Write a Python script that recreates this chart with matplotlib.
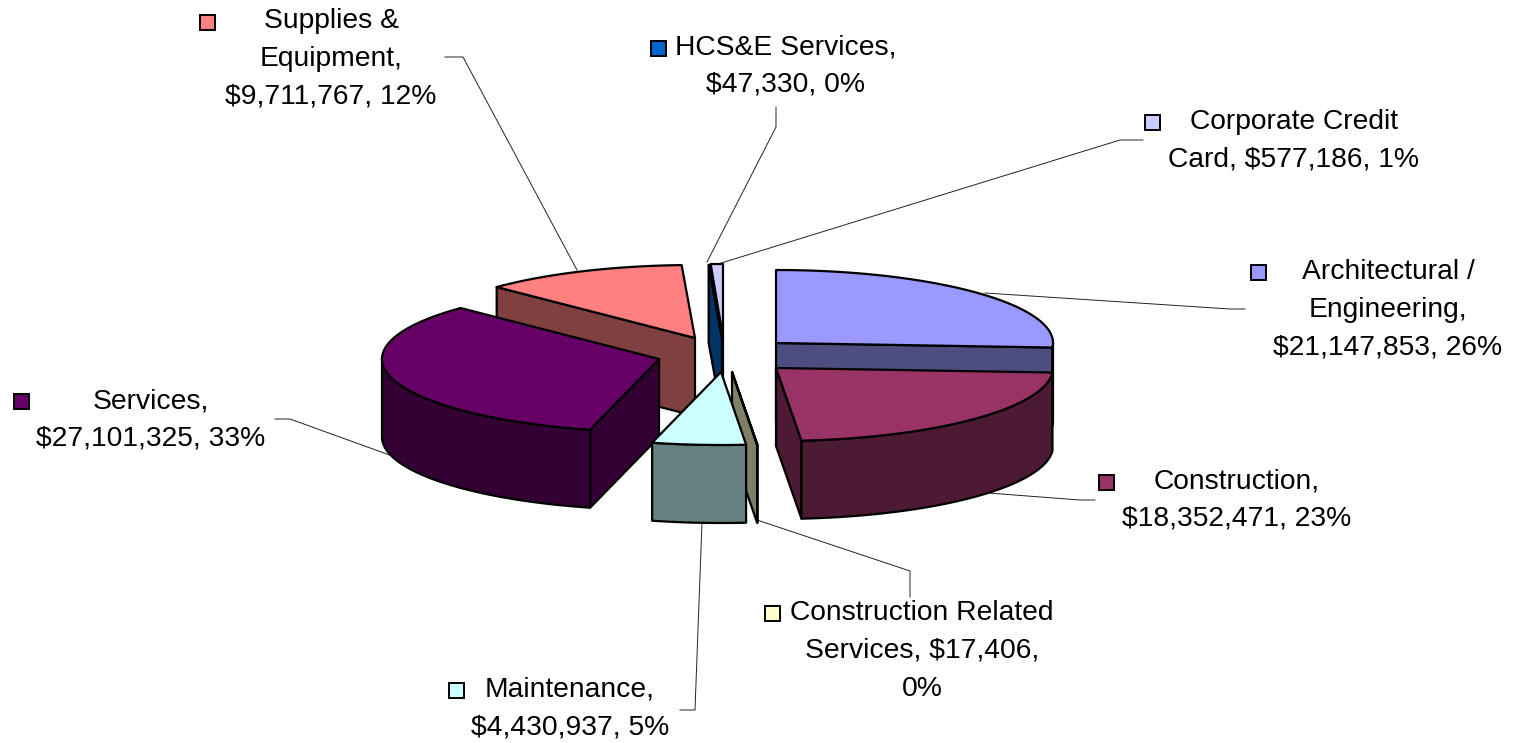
import numpy as np
import matplotlib
matplotlib.use("Agg")
import matplotlib.pyplot as plt
from matplotlib.patches import Polygon, Rectangle

# ---- data ----
categories = ["Architectural / Engineering", "Construction", "Construction Related Services",
              "Maintenance", "Services", "Supplies & Equipment", "HCS&E Services", "Corporate Credit Card"]
values = [21147853, 18352471, 17406, 4430937, 27101325, 9711767, 47330, 577186]
percents = [26, 23, 0, 5, 33, 12, 0, 1]

# ---- styles and layout ----
colors = ["#9999FF", "#993366", "#FFFFCC", "#CCFFFF", "#660066", "#FF8080", "#0066CC", "#CCCCFF"]
apexes = [(776, 343), (776, 368), (732, 372), (721, 372), (659, 359), (695, 338), (722, 338), (723, 337)]
draw_order = [0, 1, 5, 7, 6, 4, 2, 3]
RX, RY, DEPTH = 277, 73, 78
EDGE = "black"
LW = 1.6

line_breaks = [
    ["Architectural /", "Engineering,"], ["Construction,"], ["Construction Related", "Services, {v}"],
    ["Maintenance,"], ["Services,"], ["Supplies &", "Equipment,"], ["HCS&E Services,"], ["Corporate Credit"],
]
label_centers = [(1388, 272), (1237, 481), (922, 613), (570, 690), (151, 401), (331, 21), (786, 47), (1294, 122)]
key_centers = [(1258, 272), (1106, 482), (772, 613), (456, 690), (21, 401), (207, 22), (658, 48), (1152, 122)]
leaders = [
    [(1245, 309), (1230, 309), (985, 293)],
    [(1095, 500), (1080, 500), (975, 492)],
    [(910, 597), (910, 571), (757, 520)],
    [(680, 710), (695, 710), (702, 522)],
    [(275, 419), (290, 419), (395, 457)],
    [(445, 57), (463, 57), (577, 270)],
    [(776, 107), (776, 127), (707, 262)],
    [(1143, 140), (1120, 140), (718, 264)],
]
LINE_PITCH = 37.8


def label_lines(i):
    money = f"${values[i]:,}"
    pct = f"{percents[i]}%"
    if i == 2:
        return ["Construction Related", f"Services, {money},", pct]
    if i == 7:
        return ["Corporate Credit", f"Card, {money}, {pct}"]
    return list(line_breaks[i]) + [f"{money}, {pct}"]


def point(apex, deg):
    a = np.radians(deg)
    return apex[0] + RX * np.sin(a), apex[1] - RY * np.cos(a)


def darker(hex_color):
    r, g, b = matplotlib.colors.to_rgb(hex_color)
    return (r * 0.5, g * 0.5, b * 0.5)


fig = plt.figure(figsize=(15.14, 7.43), dpi=100)
ax = fig.add_axes([0, 0, 1, 1])
ax.set_xlim(0, 1514)
ax.set_ylim(743, 0)
ax.axis("off")

# leader lines below the pie
for pts in leaders:
    xs, ys = zip(*pts)
    ax.plot(xs, ys, color="#222222", lw=0.7, zorder=1)

# slice angles come from the values
total = sum(values)
edges = np.concatenate([[0], np.cumsum(values)]) / total * 360

z = 2
for i in draw_order:
    start, end = edges[i], edges[i + 1]
    apex = apexes[i]
    side = darker(colors[i])
    faces = []
    if np.sin(np.radians(start)) < -1e-9:   # start face turned to the viewer
        faces.append(point(apex, start))
    if np.sin(np.radians(end)) > 1e-9:      # end face turned to the viewer
        faces.append(point(apex, end))
    for p in faces:
        quad = [apex, p, (p[0], p[1] + DEPTH), (apex[0], apex[1] + DEPTH)]
        ax.add_patch(Polygon(quad, closed=True, fc=side, ec=EDGE, lw=LW, joinstyle="round", zorder=z))
        z += 1
    # outer wall, only the near half of the ellipse
    w0, w1 = max(start, 90), min(end, 270)
    if w1 > w0:
        t = np.linspace(w0, w1, 80)
        top = [point(apex, d) for d in t]
        bottom = [(x, y + DEPTH) for x, y in reversed(top)]
        ax.add_patch(Polygon(top + bottom, closed=True, fc=side, ec=EDGE, lw=LW, joinstyle="round", zorder=z))
        z += 1
    # top face
    t = np.linspace(start, end, max(2, int(end - start) * 2))
    ax.add_patch(Polygon([apex] + [point(apex, d) for d in t], closed=True,
                         fc=colors[i], ec=EDGE, lw=LW, joinstyle="round", zorder=z))
    z += 1

# labels and legend keys
FONT = "Liberation Sans"
for i in range(len(categories)):
    cx, cy = label_centers[i]
    for k, line in enumerate(label_lines(i)):
        ax.text(cx, cy + k * LINE_PITCH, line, ha="center", va="center", fontsize=20.3,
                family=FONT, color="black", zorder=100)
    kx, ky = key_centers[i]
    ax.add_patch(Rectangle((kx - 7.5, ky - 7.5), 15, 15, fc=colors[i], ec="black", lw=1.4, zorder=100))

fig.savefig("out.png", dpi=100, facecolor="white")
